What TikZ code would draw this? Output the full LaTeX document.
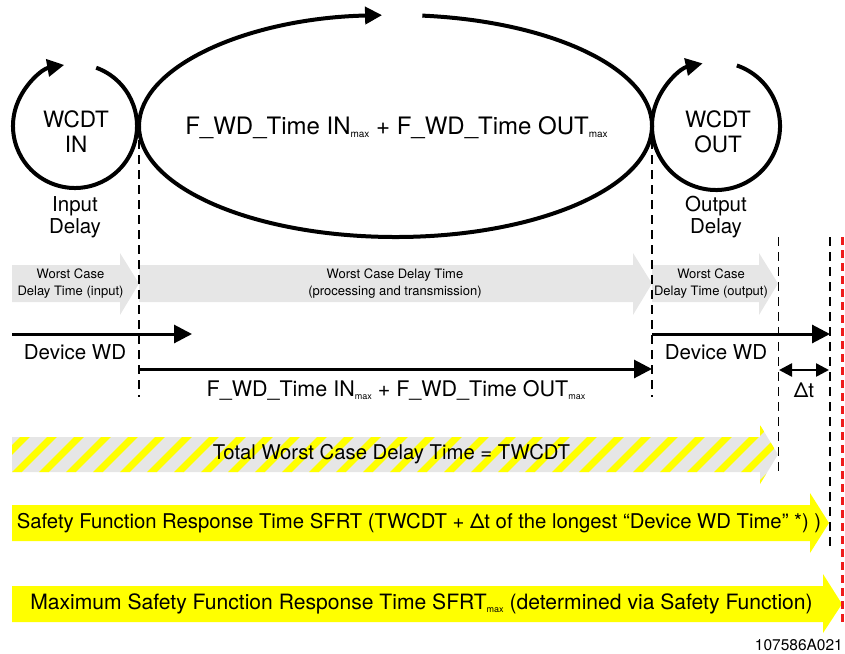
\documentclass[tikz,border=0pt]{standalone}
\usepackage{fontspec}
\setmainfont{TeX Gyre Heros}
\usetikzlibrary{arrows.meta}
\definecolor{graybar}{HTML}{E6E6E6}
\definecolor{yel}{HTML}{FFFF00}
\definecolor{redline}{HTML}{EE1C1C}
\newcommand{\mx}{\raisebox{-3pt}{\fontsize{10}{10}\selectfont max}}
\newcommand{\smx}{\raisebox{-3pt}{\fontsize{9}{9}\selectfont max}}
\begin{document}
\begin{tikzpicture}[x=1pt,y=1pt,
  loopline/.style={line width=4pt,-{Triangle[length=17pt,width=17pt]}},
  dline/.style={line width=1.5pt,dash pattern=on 9pt off 6pt},
  rline/.style={redline,line width=3pt,dash pattern=on 8pt off 5pt},
  warrow/.style={line width=3pt,-{Triangle[length=18pt,width=18pt]}},
  darrow/.style={line width=2.5pt,{Triangle[length=13pt,width=13pt]}-{Triangle[length=13pt,width=13pt]}},
  bigtxt/.style={inner sep=0pt,align=center,font=\fontsize{22.5}{25}\selectfont},
  midtxt/.style={inner sep=0pt,align=center,font=\fontsize{20.5}{22}\selectfont},
  smalltxt/.style={inner sep=0pt,align=center,font=\fontsize{13}{17}\selectfont},
  bartxt/.style={inner sep=0pt,font=\fontsize{20.3}{22}\selectfont}]
\useasboundingbox (0,0) rectangle (845,-653);

% ---- loops
\draw[loopline] ([shift={(70:62)}]75,-126) arc[start angle=70,end angle=-260,radius=62];
\draw[loopline] ([shift={(84:256.5 and 111)}]395.5,-126) arc[start angle=84,end angle=-267,x radius=256.5,y radius=111];
\draw[loopline] ([shift={(71:64)}]716,-126) arc[start angle=71,end angle=-258,radius=64];

\node[bigtxt] (wcdtin) at (76,-132) {WCDT\\IN};
\node[bigtxt] (wcdtout) at (718,-132) {WCDT\\OUT};
\node[inner sep=0pt,font=\fontsize{24}{26}\selectfont] (fwd) at (396.5,-128) {F\_WD\_Time IN\mx{} + F\_WD\_Time OUT\mx};
\node[midtxt] (indel) at (75,-217) {Input\\Delay};
\node[midtxt] (outdel) at (716,-217) {Output\\Delay};

% ---- gray arrows
\fill[graybar] (12,-265) -- (120,-265) -- (120,-253) -- (139,-283.5) -- (120,-315) -- (120,-302) -- (12,-302) -- cycle;
\fill[graybar] (139,-265) -- (633,-265) -- (633,-253) -- (652,-283.5) -- (633,-315) -- (633,-302) -- (139,-302) -- cycle;
\fill[graybar] (652,-265) -- (759,-265) -- (759,-253) -- (778,-283.5) -- (759,-315) -- (759,-302) -- (652,-302) -- cycle;
\node[smalltxt] (g1) at (70.5,-284) {Worst Case\\Delay Time (input)};
\node[smalltxt] (g2) at (395,-284) {Worst Case Delay Time\\(processing and transmission)};
\node[smalltxt] (g3) at (711,-284) {Worst Case\\Delay Time (output)};

% ---- device WD / F_WD arrows
\coordinate (dw1a) at (12,-334); \coordinate (dw1b) at (192,-334);
\coordinate (dw2a) at (652,-334); \coordinate (dw2b) at (830,-334);
\coordinate (fa) at (139,-369); \coordinate (fb) at (652,-369);
\coordinate (ta) at (779,-370); \coordinate (tb) at (829,-370);
\draw[warrow] (dw1a) -- (dw1b);
\draw[warrow] (dw2a) -- (dw2b);
\draw[warrow] (fa) -- (fb);
\draw[darrow] (ta) -- (tb);
\node[midtxt] (dwd1) at (75,-352) {Device WD};
\node[midtxt] (dwd2) at (716,-352) {Device WD};
\node[inner sep=0pt,font=\fontsize{21.5}{24}\selectfont] (fwd2) at (396,-390) {F\_WD\_Time IN\smx{} + F\_WD\_Time OUT\smx};
\node[midtxt] (dt) at (804,-390) {Δt};

% ---- hatched bar
\begin{scope}
\clip (12,-437) -- (760,-437) -- (760,-425) -- (778,-454.5) -- (760,-484) -- (760,-472) -- (12,-472) -- cycle;
\fill[graybar] (0,-420) rectangle (800,-490);
\foreach \i in {0,...,33} \draw[yel,line width=7pt] (\i*27-60,-495) -- ++(80,80);
\end{scope}
\node[bartxt] (tw) at (391.5,-454) {Total Worst Case Delay Time = TWCDT};

% ---- yellow bars
\fill[yel] (12,-505) -- (810,-505) -- (810,-493) -- (829,-523) -- (810,-553) -- (810,-541) -- (12,-541) -- cycle;
\node[bartxt] (sfrt) at (419,-523) {Safety Function Response Time SFRT (TWCDT + Δt of the longest “Device WD Time” *) )};
\fill[yel] (12,-586) -- (823,-586) -- (823,-574) -- (842,-604) -- (823,-633) -- (823,-622) -- (12,-622) -- cycle;
\node[bartxt,font=\fontsize{21.1}{22}\selectfont] (msfrt) at (421.5,-604) {Maximum Safety Function Response Time SFRT\smx{} (determined via Safety Function)};

% ---- dashed lines
\draw[dline] (139,-140) -- (139,-397);
\draw[dline] (652,-140) -- (652,-397);
\draw[dline] (778.5,-237) -- (778.5,-473);
\draw[dline] (830,-237) -- (830,-548);
\draw[rline] (842.5,-237) -- (842.5,-625);

\node[inner sep=0pt,anchor=south east,font=\fontsize{15.5}{16}\selectfont] (code) at (843,-651) {107586A021};
\end{tikzpicture}
\end{document}
